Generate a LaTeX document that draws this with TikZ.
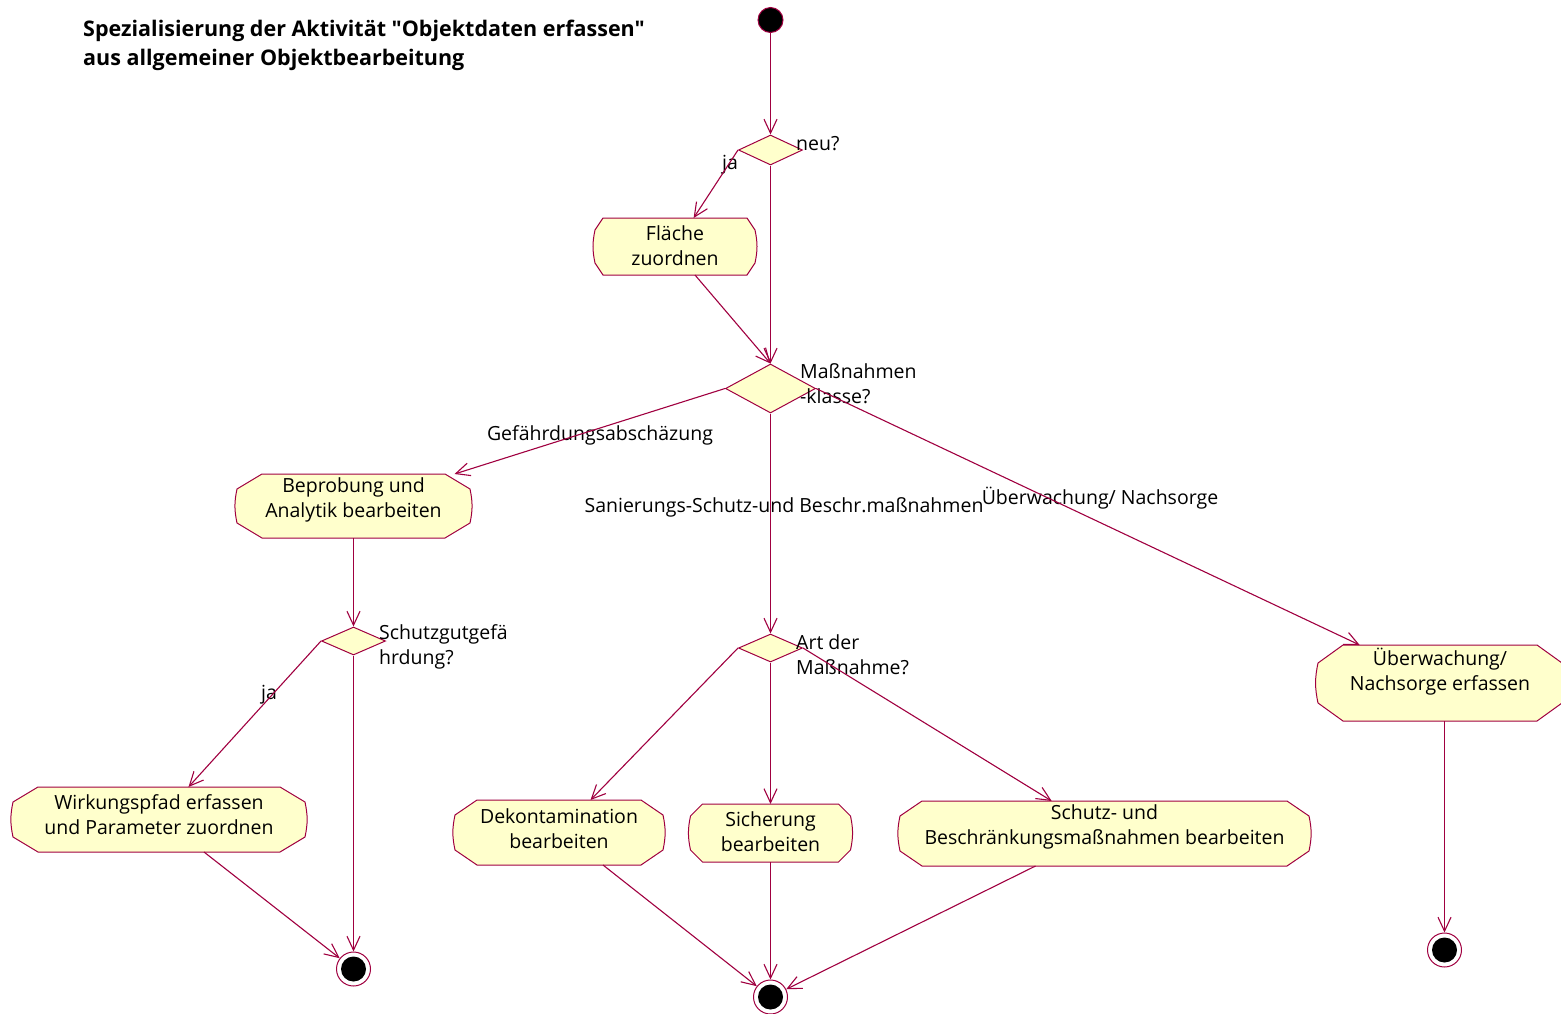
\documentclass[tikz,border=0pt]{standalone}
\usepackage{fontspec}
\setmainfont{Open Sans}
\newfontfamily\titlefont{Open Sans}
\usetikzlibrary{shapes.geometric,arrows.meta,calc}
\definecolor{lc}{HTML}{A00040}
\definecolor{af}{HTML}{FFFFCC}
\newcommand\activity[9]{%
  \begin{scope}[shift={(#2,#3)}]
    \filldraw[draw=lc, fill=af, line width=1pt] (-#4/2+#6,-#5/2) -- (#4/2-#6,-#5/2) -- (#4/2,-#5/2+#7) to[bend left=12] (#4/2,#5/2-#7) -- (#4/2-#6,#5/2) -- (-#4/2+#6,#5/2) -- (-#4/2,#5/2-#7) to[bend left=12] (-#4/2,-#5/2+#7) -- cycle;
  \end{scope}
  \node[minimum width=#4, minimum height=#5, inner sep=0pt, outer sep=0pt] (#1) at (#2,#3) {};
  \node[actfont] at ($(#2,#3)+(0,#9)$) {#8};
}
\begin{document}
\begin{tikzpicture}[x=1pt,y=-1pt,
  conn/.style={draw=lc, line width=1.1pt, -{Straight Barb[length=14pt,width=13pt]}},
  dec/.style={diamond, draw=lc, fill=af, line width=1pt, inner sep=0pt},
  lab/.style={font=\fontsize{19.5}{25}\selectfont, align=left, anchor=west, inner sep=0pt},
  actfont/.style={font=\fontsize{19.5}{25}\selectfont, align=center, inner sep=0pt},
  startst/.style={circle, draw=lc, fill=black, minimum size=25pt, inner sep=0pt, line width=1pt},
  endst/.style={circle, draw=lc, fill=white, minimum size=34pt, inner sep=0pt, line width=1pt,
    path picture={\fill[black] (path picture bounding box.center) circle (12.5pt);}},
]
\useasboundingbox (0,0) rectangle (1561,1013);

% title
\node[anchor=west, font=\titlefont\bfseries\fontsize{21.5}{29}\selectfont, align=left, inner sep=0pt] (title) at (83,45.5)
  {Spezialisierung der Aktivität "Objektdaten erfassen"\\aus allgemeiner Objektbearbeitung};

% start / decisions
\node[startst] (s) at (770.5,20) {};
\node[dec, minimum width=64pt, minimum height=30pt] (d1) at (770.5,150) {};
\node[dec, minimum width=90pt, minimum height=49pt] (d2) at (770.5,388.5) {};
\node[dec, minimum width=64pt, minimum height=28pt] (d3) at (353.5,641) {};
\node[dec, minimum width=64pt, minimum height=28pt] (d4) at (770.5,648) {};

% activities: name, cx, cy, w, h, dx, dy, text, text offset
\activity{a1}{675}{246.5}{160}{57}{8}{12}{Fläche\\zuordnen}{-1}
\activity{a2}{353.5}{506}{233}{64}{25}{15}{Beprobung und\\Analytik bearbeiten}{-6}
\activity{a3}{159}{819.5}{292}{65}{25}{15}{Wirkungspfad erfassen\\und Parameter zuordnen}{-5}
\activity{a4}{559}{832.5}{208}{65}{22}{15}{Dekontamination\\bearbeiten}{-4}
\activity{a5}{770.5}{833}{160}{58}{12}{12}{Sicherung\\bearbeiten}{-1.5}
\activity{a6}{1104.5}{833.5}{409}{65}{22}{15}{Schutz- und\\Beschränkungsmaßnahmen bearbeiten}{-7}
\activity{a7}{1440}{683}{244}{76}{25}{18}{Überwachung/\\Nachsorge erfassen}{-11.5}

% final states
\node[endst] (f1) at (353.5,969) {};
\node[endst] (f2) at (770.5,997) {};
\node[endst] (f3) at (1444.5,950) {};

% labels
\node[lab] (lneu) at (796,144) {neu?};
\node[lab, anchor=center] (lja1) at (730,165) {ja};
\node[lab] (lmk) at (800,383.5) {Maßnahmen\\-klasse?};
\node[lab, anchor=center] (lgef) at (600,435) {Gefährdungsabschäzung};
\node[lab, anchor=center] (lsan) at (784,507) {Sanierungs-Schutz-und Beschr.maßnahmen};
\node[lab, anchor=center] (lueb) at (1100,498) {Überwachung/ Nachsorge};
\node[lab] (lsg) at (379,646.5) {Schutzgutgefä\\hrdung?};
\node[lab, anchor=center] (lja2) at (269,695) {ja};
\node[lab] (lart) at (796,654.5) {Art der\\Maßnahme?};

% connectors
\draw[conn] (s) -- (d1.north);
\draw[conn] (d1.west) -- (a1);
\draw[conn] (d1.south) -- (d2.north);
\draw[conn] ([xshift=20pt]a1.south) -- (d2.north);
\draw[conn] (d2.west) -- (a2);
\draw[conn] (d2.south) -- (d4.north);
\draw[conn] (d2.east) -- (a7);
\draw[conn] (a2.south) -- (d3.north);
\draw[conn] (d3.west) -- (a3);
\draw[conn] (d3.south) -- (f1);
\draw[conn] ([xshift=45pt]a3.south) -- (f1);
\draw[conn] (d4.west) -- (a4);
\draw[conn] (d4.south) -- (a5);
\draw[conn] (d4.east) -- (a6);
\draw[conn] ([xshift=44pt]a4.south) -- (f2);
\draw[conn] (a5.south) -- (f2);
\draw[conn] ([xshift=-69pt]a6.south) -- (f2);
\draw[conn] ([xshift=4.5pt]a7.south) -- (f3);
\end{tikzpicture}
\end{document}
